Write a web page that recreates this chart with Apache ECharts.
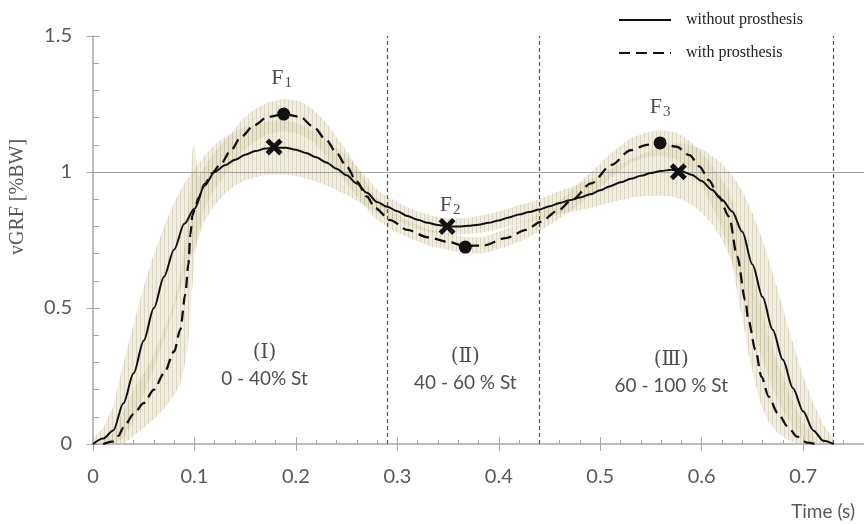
<!DOCTYPE html>
<html><head><meta charset="utf-8">
<script src="https://cdn.jsdelivr.net/npm/echarts@6/dist/echarts.min.js"></script>
<style>html,body{margin:0;padding:0;background:#fff}#c{width:864px;height:524px}</style>
</head><body><div id="c"></div>
<script>
// ---------------- data ----------------
const legendNames = ['without prosthesis', 'with prosthesis'];

// without prosthesis: time, mean, band low, band high
const tWithout = [0,0.01,0.02,0.03,0.04,0.05,0.06,0.07,0.08,0.09,0.10,0.11,0.12,0.13,0.14,0.15,0.16,0.17,0.18,0.19,0.20,0.21,0.22,0.23,0.24,0.25,0.26,0.27,0.28,0.29,0.30,0.31,0.32,0.33,0.34,0.35,0.36,0.37,0.38,0.39,0.40,0.41,0.42,0.43,0.44,0.45,0.46,0.47,0.48,0.49,0.50,0.51,0.52,0.53,0.54,0.55,0.56,0.57,0.58,0.59,0.60,0.61,0.62,0.63,0.64,0.65,0.66,0.67,0.68,0.69,0.70,0.71,0.72,0.73];
const yWithout = [0,0.02,0.05,0.15,0.26,0.38,0.50,0.615,0.715,0.81,0.865,0.95,1.00,1.025,1.045,1.063,1.077,1.086,1.09,1.089,1.082,1.07,1.054,1.035,1.012,0.988,0.958,0.924,0.89,0.872,0.856,0.838,0.824,0.813,0.805,0.80,0.80,0.802,0.806,0.813,0.822,0.833,0.844,0.853,0.862,0.874,0.886,0.896,0.906,0.918,0.933,0.948,0.962,0.975,0.986,0.996,1.004,1.008,1.003,0.99,0.967,0.935,0.898,0.855,0.78,0.66,0.54,0.42,0.31,0.205,0.12,0.05,0.012,0];
const loWithout = [0,0,0,0.02,0.08,0.18,0.28,0.38,0.50,0.62,0.72,0.82,0.88,0.92,0.95,0.97,0.98,0.99,0.99,0.99,0.985,0.975,0.965,0.95,0.935,0.915,0.895,0.87,0.85,0.835,0.82,0.805,0.79,0.78,0.775,0.77,0.77,0.772,0.775,0.782,0.79,0.80,0.81,0.818,0.825,0.835,0.845,0.853,0.86,0.868,0.878,0.888,0.897,0.905,0.91,0.913,0.913,0.91,0.90,0.88,0.85,0.81,0.75,0.67,0.56,0.43,0.31,0.20,0.12,0.06,0.02,0,0,0];
const hiWithout = [0.02,0.06,0.14,0.30,0.44,0.58,0.70,0.80,0.89,0.96,1.01,1.06,1.10,1.13,1.15,1.165,1.175,1.185,1.19,1.19,1.18,1.165,1.145,1.12,1.09,1.06,1.02,0.98,0.935,0.91,0.89,0.87,0.855,0.845,0.835,0.83,0.83,0.832,0.838,0.845,0.855,0.866,0.878,0.888,0.90,0.915,0.93,0.943,0.957,0.972,0.99,1.01,1.03,1.048,1.064,1.08,1.094,1.105,1.105,1.10,1.085,1.06,1.03,0.99,0.93,0.85,0.75,0.63,0.50,0.37,0.25,0.15,0.07,0.02];

// with prosthesis
const tWith = [0.010,0.020,0.025,0.030,0.040,0.050,0.060,0.070,0.080,0.086,0.091,0.094,0.096,0.098,0.100,0.104,0.110,0.117,0.126,0.136,0.146,0.159,0.172,0.188,0.204,0.217,0.230,0.240,0.250,0.260,0.270,0.278,0.293,0.310,0.330,0.349,0.367,0.385,0.407,0.427,0.441,0.459,0.472,0.491,0.511,0.530,0.546,0.559,0.575,0.588,0.598,0.607,0.617,0.627,0.635,0.643,0.646,0.653,0.659,0.666,0.675,0.685,0.694,0.704,0.712];
const yWith = [0,0.01,0.03,0.06,0.11,0.15,0.20,0.26,0.34,0.42,0.55,0.66,0.77,0.84,0.86,0.905,0.955,0.995,1.03,1.08,1.13,1.172,1.202,1.213,1.203,1.167,1.118,1.07,1.02,0.965,0.91,0.868,0.823,0.787,0.76,0.744,0.728,0.73,0.757,0.787,0.817,0.86,0.897,0.958,1.026,1.08,1.10,1.107,1.093,1.062,1.02,0.97,0.909,0.836,0.69,0.529,0.456,0.346,0.247,0.174,0.113,0.064,0.027,0.005,0];
const loWith = [0,0,0,0,0.03,0.06,0.09,0.13,0.18,0.22,0.30,0.38,0.48,0.58,0.68,0.78,0.86,0.92,0.97,1.02,1.07,1.11,1.14,1.15,1.14,1.11,1.06,1.01,0.96,0.91,0.865,0.83,0.79,0.76,0.73,0.715,0.70,0.70,0.725,0.755,0.785,0.825,0.86,0.915,0.98,1.035,1.055,1.06,1.045,1.01,0.96,0.90,0.82,0.72,0.56,0.40,0.33,0.22,0.14,0.08,0.04,0.015,0,0,0];
const hiWith = [0.02,0.04,0.08,0.12,0.20,0.26,0.33,0.42,0.52,0.62,0.75,0.85,0.95,1.08,1.105,0.98,1.02,1.06,1.10,1.14,1.19,1.23,1.255,1.27,1.26,1.23,1.18,1.13,1.08,1.02,0.96,0.91,0.86,0.82,0.79,0.775,0.76,0.76,0.79,0.82,0.85,0.895,0.935,1.00,1.07,1.125,1.145,1.155,1.145,1.115,1.08,1.04,0.99,0.93,0.84,0.74,0.69,0.59,0.50,0.40,0.30,0.20,0.12,0.06,0.02];

// peak markers
const peakNames = ['1', '2', '3'];
const peaksWithout = [[0.1785, 1.092], [0.349, 0.80], [0.577, 1.001]];
const peaksWith = [[0.188, 1.213], [0.367, 0.724], [0.559, 1.107]];
const peakLabelPos = [[0.186, 1.346], [0.352, 0.879], [0.559, 1.24]];

// stance phases
const phaseDividers = [0.293, 0.441, 0.730];
const phaseNames = ['(Ⅰ)', '(Ⅱ)', '(Ⅲ)'];
const phaseRanges = ['0 - 40% St', '40 - 60 % St', '60 - 100 % St'];
const phaseLabelPos = [[0.169, 0.287], [0.367, 0.272], [0.570, 0.263]];

// ---------------- build ----------------
const zip = (a, b) => a.map((v, i) => [v, b[i]]);

function hatch() {
  const c = document.createElement('canvas');
  c.width = 4; c.height = 8;
  const g = c.getContext('2d');
  g.fillStyle = 'rgba(218,211,175,0.38)';
  g.fillRect(0, 0, 4, 8);
  g.fillStyle = 'rgba(175,165,120,0.32)';
  g.fillRect(0, 0, 1, 8);
  return c;
}
const pattern = { image: hatch(), repeat: 'repeat' };

const axisGray = '#a6a6a6';
const labelGray = '#595959';
const crossPath = 'path://M0,4 L4,0 L10,6 L16,0 L20,4 L14,10 L20,16 L16,20 L10,14 L4,20 L0,16 L6,10 Z';

function bandSeries(t, lo, hi) {
  return {
    type: 'custom', silent: true, z: 1, clip: true,
    data: t.map((v, i) => [v, lo[i], hi[i]]),
    encode: { x: 0, y: [1, 2] },
    renderItem: (params, api) => {
      if (params.dataIndex !== 0) return null;
      const top = t.map((v, i) => api.coord([v, hi[i]]));
      const bot = t.map((v, i) => api.coord([v, lo[i]])).reverse();
      return { type: 'polygon', shape: { points: top.concat(bot) }, style: { fill: pattern, stroke: null } };
    }
  };
}

const markLineData = phaseDividers.map(v => ({ xAxis: v, lineStyle: { color: '#555', width: 1.2, type: [4, 3] } }));
markLineData.push({ yAxis: 1, lineStyle: { color: '#a0a0a0', width: 1.2, type: 'solid' } });

const chart = echarts.init(document.getElementById('c'), null, { renderer: 'canvas' });
chart.setOption({
  animation: false,
  backgroundColor: '#fff',
  grid: { left: 93, top: 36, width: 784.7, bottom: 80 },
  legend: {
    data: legendNames, orient: 'vertical', left: 618, top: 12, padding: 0,
    itemWidth: 52, itemHeight: 14, itemGap: 17,
    itemStyle: { opacity: 0 },
    textStyle: { fontFamily: 'Liberation Serif', fontSize: 16, color: '#222', padding: [0, 0, 0, 10] }
  },
  xAxis: [{
    type: 'value', min: 0, max: 0.76, interval: 0.1,
    axisLine: { lineStyle: { color: axisGray, width: 1.5 } },
    axisTick: { inside: true, length: 7, lineStyle: { color: axisGray } },
    minorTick: { show: true, splitNumber: 5, length: 4, lineStyle: { color: axisGray } },
    axisLabel: { fontFamily: 'Lato', fontSize: 20, color: labelGray, margin: 23, showMaxLabel: false },
    splitLine: { show: false },
    name: 'Time (s)', nameLocation: 'end', nameGap: -9,
    nameTextStyle: { fontFamily: 'Lato', fontSize: 19, color: labelGray, align: 'right', verticalAlign: 'top', padding: [58, 0, 0, 0] }
  }, {
    type: 'value', min: 0, max: 0.76, interval: 0.1, position: 'bottom',
    axisLine: { show: false }, axisLabel: { show: false }, splitLine: { show: false },
    axisTick: { inside: false, length: 7, lineStyle: { color: axisGray } }
  }],
  yAxis: [{
    type: 'value', min: 0, max: 1.5, interval: 0.5,
    axisLine: { show: true, lineStyle: { color: axisGray, width: 1.5 } },
    axisTick: { show: true, inside: true, length: 7, lineStyle: { color: axisGray } },
    minorTick: { show: true, splitNumber: 5, length: 6, lineStyle: { color: axisGray } },
    axisLabel: { fontFamily: 'Lato', fontSize: 20, color: labelGray, margin: 21 },
    splitLine: { show: false }
  }, {
    type: 'value', min: 0, max: 1.5, interval: 0.5, position: 'left',
    axisLine: { show: false }, axisLabel: { show: false }, splitLine: { show: false },
    axisTick: { show: true, inside: false, length: 6, lineStyle: { color: axisGray } }
  }],
  graphic: [{
    type: 'text', x: 18, y: 197, rotation: Math.PI / 2,
    style: { text: 'vGRF [%BW]', font: '20px "Liberation Serif"', fill: labelGray,
      align: 'center', verticalAlign: 'middle', textAlign: 'center', textVerticalAlign: 'middle' }
  }],
  series: [
    bandSeries(tWithout, loWithout, hiWithout),
    bandSeries(tWith, loWith, hiWith),
    {
      name: legendNames[0], type: 'line', data: zip(tWithout, yWithout), symbol: 'none',
      smooth: 0.3, smoothMonotone: 'x', z: 5,
      lineStyle: { color: '#111', width: 2 }, itemStyle: { color: '#111' },
      markLine: { silent: true, symbol: 'none', label: { show: false }, data: markLineData }
    },
    {
      name: legendNames[1], type: 'line', data: zip(tWith, yWith), symbol: 'none',
      smooth: 0.3, smoothMonotone: 'x', z: 5,
      lineStyle: { color: '#111', width: 2.3, type: [11, 6] }, itemStyle: { color: '#111' }
    },
    {
      type: 'scatter', data: peaksWithout, symbol: crossPath, symbolSize: 17, z: 6,
      itemStyle: { color: '#111', opacity: 1 }, silent: true
    },
    {
      type: 'scatter', data: peaksWith, symbol: 'circle', symbolSize: 13, z: 6,
      itemStyle: { color: '#111', opacity: 1 }, silent: true
    },
    {
      type: 'scatter', data: peakLabelPos.map((p, i) => ({ value: p, name: peakNames[i] })),
      symbolSize: 1, itemStyle: { color: 'rgba(0,0,0,0)' }, silent: true, z: 7,
      label: {
        show: true, position: 'inside', formatter: p => '{f|F}{s|' + p.name + '}',
        rich: {
          f: { fontFamily: 'Liberation Serif', fontSize: 22, color: '#222' },
          s: { fontFamily: 'Liberation Serif', fontSize: 15, color: '#222', padding: [10, 0, 0, 1] }
        }
      }
    },
    {
      type: 'scatter', data: phaseLabelPos.map((p, i) => ({ value: p, name: String(i) })),
      symbolSize: 1, itemStyle: { color: 'rgba(0,0,0,0)' }, silent: true, z: 7,
      label: {
        show: true, position: 'inside', lineHeight: 26,
        formatter: p => '{r|' + phaseNames[+p.name] + '}\n{p|' + phaseRanges[+p.name] + '}',
        rich: {
          r: { fontFamily: 'DejaVu Serif', fontSize: 20, color: '#222', lineHeight: 26 },
          p: { fontFamily: 'Lato', fontSize: 19, color: '#222', lineHeight: 26 }
        }
      }
    }
  ]
});
</script>
</body></html>
